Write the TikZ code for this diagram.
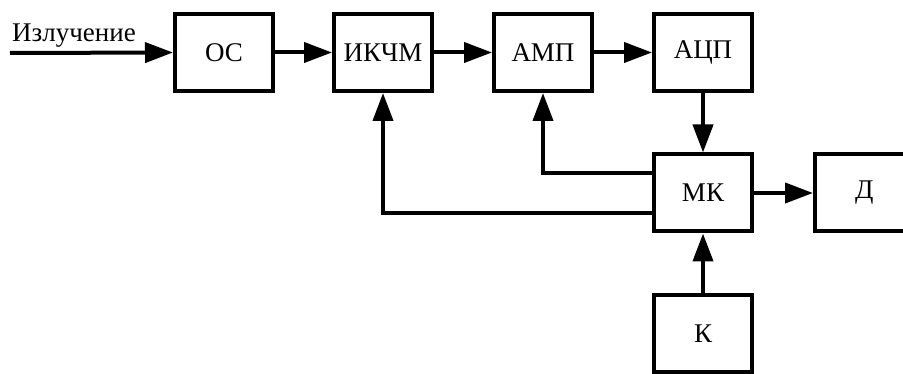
\documentclass[tikz,border=0pt]{standalone}
\usepackage{fontspec}
\setmainfont{Liberation Serif}
\usetikzlibrary{arrows.meta}
\begin{document}
\begin{tikzpicture}[x=1pt,y=-1pt,
  blk/.style={draw=black, line width=4pt, minimum width=98pt, minimum height=77pt, inner sep=0pt, font=\fontsize{27}{32}\selectfont, fill=white},
  conn/.style={line width=4pt, -{Triangle[length=28pt,width=20pt]}},
  plain/.style={line width=4pt}]
\useasboundingbox (0,0) rectangle (903,374);
\clip (0,0) rectangle (903,374);
\node[blk] (os) at (224,52.5) {ОС};
\node[blk] (ik) at (383,52.5) {ИКЧМ};
\node[blk] (amp) at (543,52.5) {АМП};
\node[blk] (acp) at (703,52.5) {АЦП};
\node[blk] (mk) at (703,193) {МК};
\node[blk, anchor=west, text width=200pt, align=left] (d) at (813,193) {\hspace*{40pt}Д};
\node[blk] (k) at (703,333.5) {К};
\coordinate (in) at (10,53);
\node[font=\fontsize{27}{32}\selectfont, anchor=base west, inner sep=0pt] (lbl) at (12,42) {Излучение};
\draw[conn] (in) -- (os.west);
\draw[conn] (os) -- (ik);
\draw[conn] (ik) -- (amp);
\draw[conn] (amp) -- (acp);
\draw[conn] (acp) -- (mk);
\draw[conn] (mk) -- (d);
\draw[conn] (k) -- (mk);
\draw[conn] (mk.west |- 0,173) -| (amp.south);
\draw[conn] (mk.west |- 0,213) -| (ik.south);
\end{tikzpicture}
\end{document}
